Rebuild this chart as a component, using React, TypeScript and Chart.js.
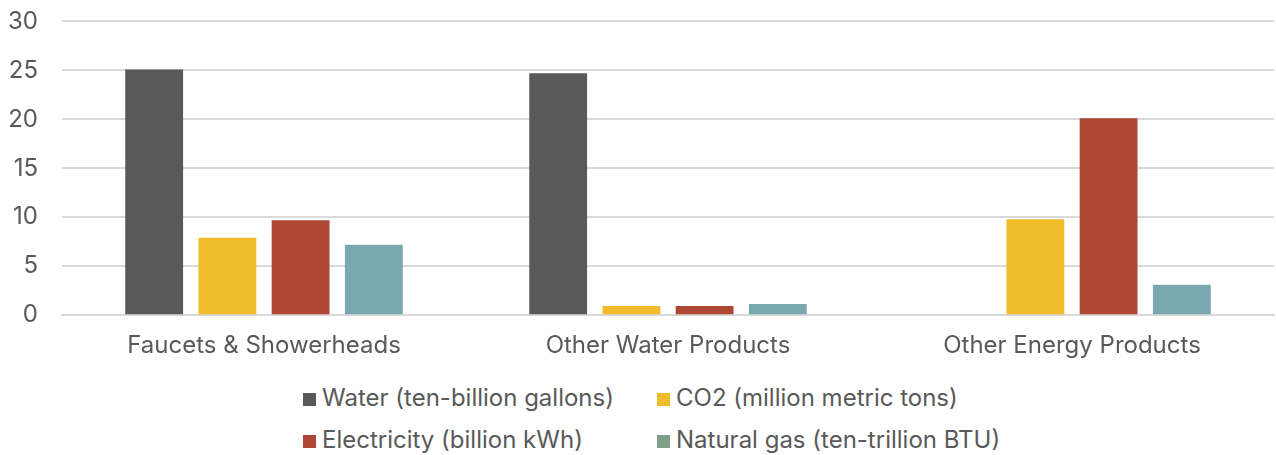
import React, { useEffect, useRef } from "react";
import { Chart, registerables } from "chart.js";

Chart.register(...registerables);

const categories = ["Faucets & Showerheads", "Other Water Products", "Other Energy Products"];
const seriesNames = [
  "Water (ten-billion gallons)",
  "CO2 (million metric tons)",
  "Electricity (billion kWh)",
  "Natural gas (ten-trillion BTU)",
];
const waterValues = [25.1, 24.7, 0];
const co2Values = [7.9, 0.95, 9.8];
const electricityValues = [9.7, 0.95, 20.1];
const gasValues = [7.2, 1.15, 3.1];
const yTicks = [0, 5, 10, 15, 20, 25, 30];

const barColors = ["#595959", "#f0bc2b", "#ae4634", "#7aa8b0"];
const legendColors = ["#595959", "#f0bc2b", "#ae4634", "#7f9f8a"];
const FONT = "Inter, 'Noto Sans', sans-serif";
const TEXT = "#595959";

export default function App() {
  const ref = useRef<HTMLCanvasElement | null>(null);

  useEffect(() => {
    if (!ref.current) return;
    const values = [waterValues, co2Values, electricityValues, gasValues];
    const chart = new Chart(ref.current, {
      type: "bar",
      data: {
        labels: categories,
        datasets: seriesNames.map((name, i) => ({
          label: name,
          data: values[i],
          backgroundColor: barColors[i],
          borderWidth: 0,
          categoryPercentage: 0.725,
          barPercentage: 0.79,
        })),
      },
      options: {
        animation: false,
        responsive: false,
        maintainAspectRatio: false,
        layout: { padding: { top: 0, right: 2, left: 0, bottom: 0 } },
        plugins: {
          legend: { display: false },
          tooltip: { enabled: false },
        },
        scales: {
          x: {
            grid: { display: false, drawTicks: false },
            border: { display: true, color: "#d9d9d9", width: 2 },
            ticks: {
              color: TEXT,
              font: { family: FONT, size: 24 },
              padding: 16,
            },
          },
          y: {
            min: 0,
            max: 30,
            afterBuildTicks: (scale: any) => {
              scale.ticks = yTicks.map((v) => ({ value: v }));
            },
            afterFit: (scale: any) => {
              scale.width = 62;
            },
            grid: { color: "#d9d9d9", lineWidth: 2, drawTicks: false },
            border: { display: false },
            ticks: {
              color: TEXT,
              font: { family: FONT, size: 24 },
              padding: 24,
            },
          },
        },
      },
    });
    return () => chart.destroy();
  }, []);

  const legendRows = [
    [0, 1],
    [2, 3],
  ];

  return (
    <div style={{ position: "absolute", left: 0, top: 0, width: 1276, height: 455, background: "#fff", fontFamily: FONT, overflow: "hidden" }}>
      <canvas ref={ref} width={1276} height={393} style={{ position: "absolute", left: 0, top: -17, width: 1276, height: 393 }} />
      {legendRows.map((row, r) =>
        row.map((idx, c) => (
          <div
            key={idx}
            style={{
              position: "absolute",
              left: c === 0 ? 303 : 657,
              top: r === 0 ? 382 : 424,
              height: 30,
              display: "flex",
              alignItems: "center",
              color: TEXT,
              fontSize: 24,
              whiteSpace: "nowrap",
            }}
          >
            <span style={{ display: "inline-block", width: 13, height: 13, background: legendColors[idx], marginRight: 6, position: "relative", top: 2 }} />
            <span>{seriesNames[idx]}</span>
          </div>
        ))
      )}
    </div>
  );
}
